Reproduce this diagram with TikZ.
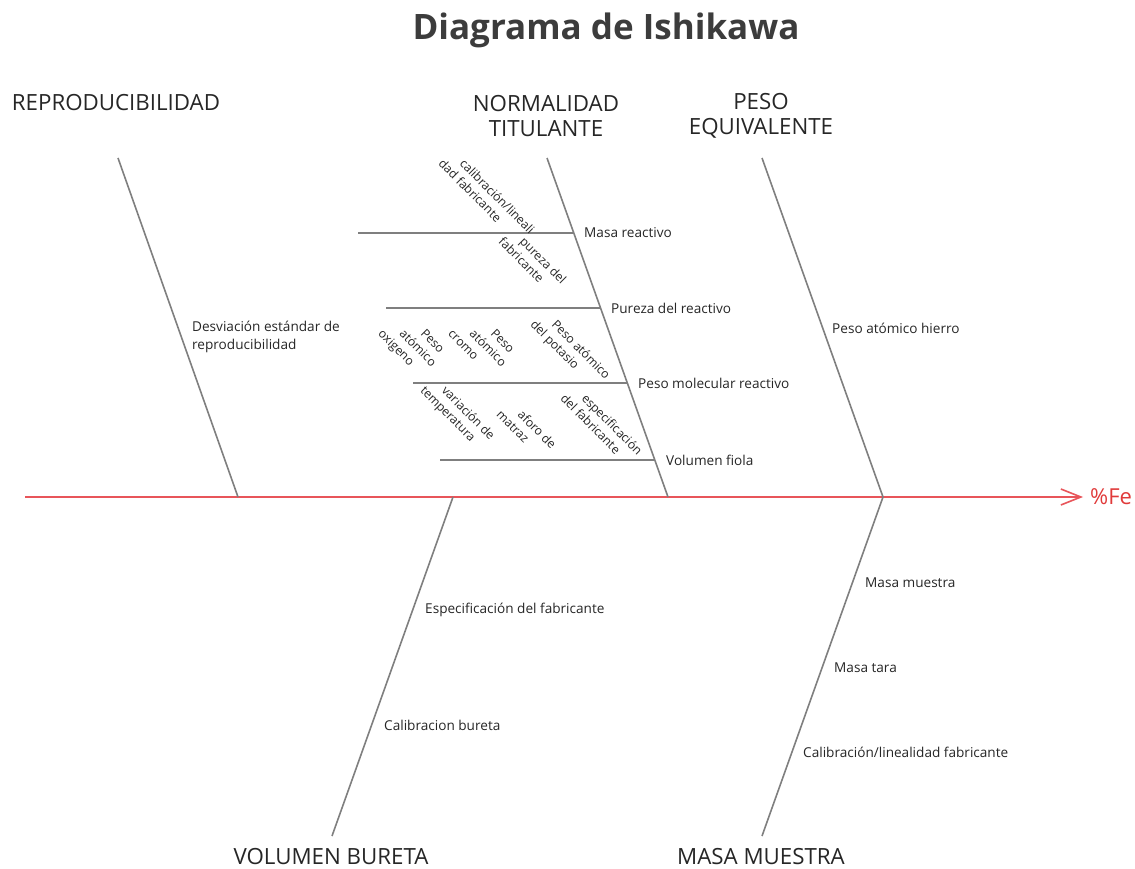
\documentclass[tikz,border=0pt]{standalone}
\usepackage{fontspec}
\setmainfont{Open Sans}
\usetikzlibrary{arrows.meta}
\definecolor{txt}{HTML}{262626}
\definecolor{bonec}{HTML}{7F7F7F}
\definecolor{spinec}{HTML}{E8555A}
\definecolor{fe}{HTML}{E03A3A}
\newcommand\indA{\hskip15pt}
\newcommand\indB{\hskip30pt}
\tikzset{
  bone/.style={draw=bonec, line width=1.6pt},
  spineln/.style={draw=spinec, line width=1.6pt, -{Straight Barb[length=20pt,width=16pt,line width=1.6pt]}},
  cat/.style={text=txt, font=\fontsize{22.3}{25}\selectfont, align=center, inner sep=0pt},
  lab/.style={text=txt, font=\fontsize{13.6}{18}\selectfont, align=left, anchor=west, inner sep=0pt},
  rlab/.style={text=txt, font=\fontsize{12.2}{15}\selectfont, align=left, rotate=-45, anchor=north west, inner sep=0pt},
}
\begin{document}
\begin{tikzpicture}[x=1pt,y=-1pt]
\useasboundingbox (0,0) rectangle (1135,869);
% title
\node[text=txt!90!white, font=\fontsize{35}{40}\selectfont\bfseries, inner sep=0pt] (title) at (606,30) {Diagrama de Ishikawa};
% spine
\coordinate (sp0) at (25,497);
\coordinate (sp1) at (1083,497);
\draw[spineln] (sp0) -- (sp1);
\node[text=fe, font=\fontsize{22}{25}\selectfont, anchor=west, inner sep=0pt] (effect) at (1090,497) {\%Fe};
% bone coordinates
\coordinate (r1) at (118,158); \coordinate (r2) at (238,497);
\coordinate (n1) at (547,158); \coordinate (n2) at (668,497);
\coordinate (p1) at (762,158); \coordinate (p2) at (883,497);
\coordinate (v1) at (453,497); \coordinate (v2) at (332,836);
\coordinate (m1) at (883,497); \coordinate (m2) at (762,836);
\draw[bone] (r1) -- (r2);
\draw[bone] (n1) -- (n2);
\draw[bone] (p1) -- (p2);
\draw[bone] (v1) -- (v2);
\draw[bone] (m1) -- (m2);
% category labels
\node[cat] (cR) at (116,103) {REPRODUCIBILIDAD};
\node[cat] (cN) at (546,116) {NORMALIDAD\\TITULANTE};
\node[cat] (cP) at (761,116) {PESO\\EQUIVALENTE};
\node[cat] (cV) at (331,857) {VOLUMEN BURETA};
\node[cat] (cM) at (761,857) {MASA MUESTRA};
% sub-bones of NORMALIDAD TITULANTE
\coordinate (a0) at (358,233); \coordinate (a1) at (573.8,233);
\coordinate (b0) at (386,308); \coordinate (b1) at (600.5,308);
\coordinate (c0) at (413,383); \coordinate (c1) at (627.3,383);
\coordinate (d0) at (440,460); \coordinate (d1) at (654.8,460);
\draw[bone] (a0) -- (a1);
\draw[bone] (b0) -- (b1);
\draw[bone] (c0) -- (c1);
\draw[bone] (d0) -- (d1);
\node[lab] (lA) at (584,233) {Masa reactivo};
\node[lab] (lB) at (611,308) {Pureza del reactivo};
\node[lab] (lC) at (638,383) {Peso molecular reactivo};
\node[lab] (lD) at (666,460) {Volumen fiola};
% rotated sub-causes (lines stacked with a horizontal offset)
\node[rlab] (q1) at (455,147) {\indA calibración/lineali\\dad fabricante};
\node[rlab] (q2) at (515,225) {\indA pureza del\\fabricante};
\node[rlab] (q3) at (405,307) {\indB Peso\\\indA atómico\\oxigeno};
\node[rlab] (q4) at (475,307) {\indB Peso\\\indA atómico\\cromo};
\node[rlab] (q5) at (547,308) {\indA Peso atómico\\del potasio};
\node[rlab] (q6) at (437,374) {\indA variación de\\temperatura};
\node[rlab] (q7) at (513,398) {\indA aforo de\\matraz};
\node[rlab] (q8) at (577,382) {\indA especificación\\del fabricante};
% other causes
\node[lab] (lR) at (192,337) {Desviación estándar de\\reproducibilidad};
\node[lab] (lP) at (832,328) {Peso atómico hierro};
\node[lab] (lV1) at (425,610) {Especificación del fabricante};
\node[lab] (lV2) at (384,725) {Calibracion bureta};
\node[lab] (lM1) at (865,583) {Masa muestra};
\node[lab] (lM2) at (834,668) {Masa tara};
\node[lab] (lM3) at (803,752) {Calibración/linealidad fabricante};
\end{tikzpicture}
\end{document}
